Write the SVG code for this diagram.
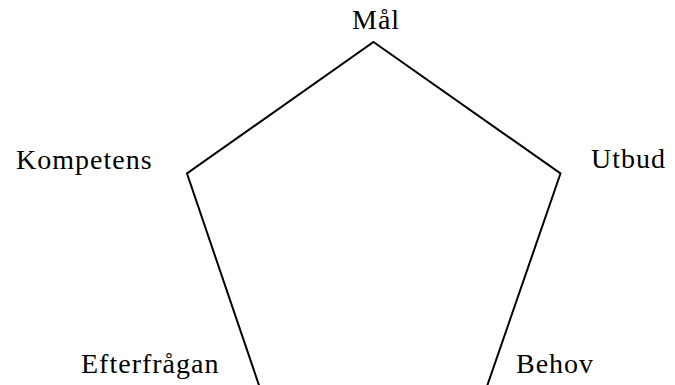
<svg xmlns="http://www.w3.org/2000/svg" width="675" height="385" viewBox="0 0 675 385">
<style>
.lbl{font-family:"Liberation Serif","Times New Roman",serif;font-size:28px;letter-spacing:1px;fill:#000}
.edge{fill:none;stroke:#000;stroke-width:2;stroke-linejoin:miter}
</style>
<rect width="675" height="385" fill="#fff"/>
<g id="connectors">
<polygon class="edge" points="373.5,42 560.5,173.5 484,395 262.3,395 187,173.5"/>
</g>
<g id="node-mal"><text class="lbl" x="352" y="29">Mål</text></g>
<g id="node-kompetens"><text class="lbl" x="16" y="169">Kompetens</text></g>
<g id="node-utbud"><text class="lbl" x="591" y="168">Utbud</text></g>
<g id="node-efterfragan"><text class="lbl" x="81" y="373">Efterfrågan</text></g>
<g id="node-behov"><text class="lbl" x="516" y="373">Behov</text></g>
</svg>
